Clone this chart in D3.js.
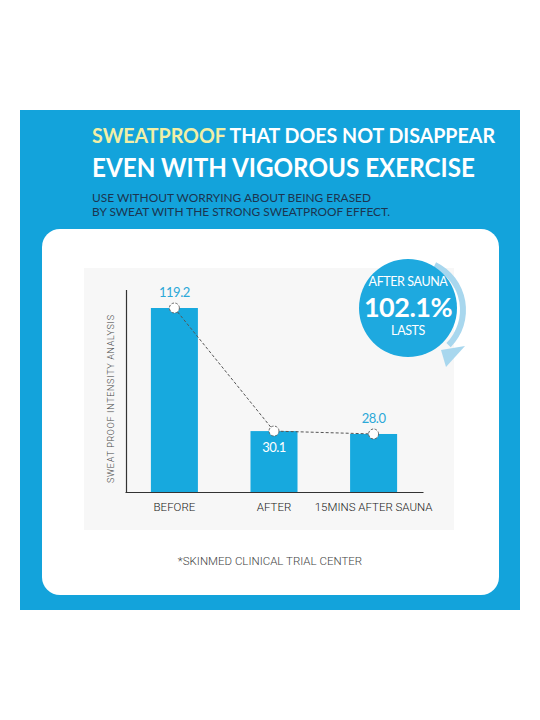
<!DOCTYPE html>
<meta charset="utf-8">
<style>
  body { margin: 0; background: #ffffff; }
  svg text { font-family: "Lato", "Roboto", sans-serif; }
</style>
<script src="https://d3js.org/d3.v7.min.js"></script>
<div id="chart"></div>
<script>

  // chart data
  var categories = ["BEFORE", "AFTER", "15MINS AFTER SAUNA"]
  var values = [119.2, 30.1, 28.0]
  var valueLabels = ["119.2", "30.1", "28.0"]
  var labelInside = [false, true, false]

  var titleLine1 = ["SWEATPROOF", " THAT DOES NOT DISAPPEAR"]
  var titleLine2 = "EVEN WITH VIGOROUS EXERCISE"
  var subtitle = ["USE WITHOUT WORRYING ABOUT BEING ERASED", "BY SWEAT WITH THE STRONG SWEATPROOF EFFECT."]
  var badgeText = ["AFTER SAUNA", "102.1%", "LASTS"]
  var yLabel = "SWEAT PROOF INTENSITY ANALYSIS"
  var footnote = "*SKINMED CLINICAL TRIAL CENTER"

  var blue = "#13a3db"

  var svg = d3.select("#chart")
    .append("svg")
    .attr("width", 540)
    .attr("height", 720)

  // blue panel and white card
  svg.append("rect")
    .attr("x", 20).attr("y", 110)
    .attr("width", 500).attr("height", 500)
    .style("fill", blue)

  svg.append("rect")
    .attr("x", 42).attr("y", 229)
    .attr("width", 457).attr("height", 366)
    .attr("rx", 18)
    .style("fill", "#ffffff")

  // titles
  var t1 = svg.append("text")
    .attr("x", 92).attr("y", 143)
    .attr("textLength", 403)
    .attr("lengthAdjust", "spacingAndGlyphs")
    .style("font-size", "21px")
    .style("font-weight", 700)
  t1.append("tspan").style("fill", "#f2efa6").text(titleLine1[0])
  t1.append("tspan").style("fill", "#ffffff").text(titleLine1[1])

  svg.append("text")
    .attr("x", 92).attr("y", 177)
    .attr("textLength", 383)
    .attr("lengthAdjust", "spacingAndGlyphs")
    .style("font-size", "26px")
    .style("font-weight", 700)
    .style("fill", "#ffffff")
    .text(titleLine2)

  svg.selectAll(".sub")
    .data(subtitle)
    .enter()
    .append("text")
    .attr("class", "sub")
    .attr("x", 92)
    .attr("y", function (d, i) { return 202 + i * 14 })
    .attr("textLength", function (d, i) { return i == 0 ? 279 : 298 })
    .attr("lengthAdjust", "spacingAndGlyphs")
    .style("font-size", "11.5px")
    .style("fill", "#1c3550")
    .text(function (d) { return d })

  // chart background
  svg.append("rect")
    .attr("x", 84).attr("y", 268)
    .attr("width", 370).attr("height", 262)
    .style("fill", "#f7f7f7")

  // scales
  var x = d3.scaleBand()
    .domain(categories)
    .range([125, 423])
    .paddingInner(0.528)
    .paddingOuter(0.26)

  var y = d3.scaleLinear()
    .domain([-14, 125])
    .range([492, 300])

  var g = svg.append("g")

  // bars
  g.selectAll(".bar")
    .data(values)
    .enter()
    .append("rect")
    .attr("class", "bar")
    .attr("x", function (d, i) { return x(categories[i]) })
    .attr("y", function (d) { return y(d) })
    .attr("width", x.bandwidth())
    .attr("height", function (d) { return y.range()[0] - y(d) })
    .style("fill", "#17a9de")

  // axes (plain lines, no ticks)
  var xAxis = g.append("g")
    .attr("transform", "translate(0,492)")
    .call(d3.axisBottom(x).tickSize(0).tickPadding(11))
  xAxis.select(".domain").attr("stroke", "#333").attr("stroke-width", 1.2)
  xAxis.selectAll("text")
    .style("font-family", "Roboto, sans-serif")
    .style("font-weight", 300)
    .style("font-size", "11.5px")
    .style("fill", "#222")

  g.append("line")
    .attr("x1", 126.5).attr("x2", 126.5)
    .attr("y1", 290).attr("y2", 492)
    .style("stroke", "#333")
    .style("stroke-width", 1.2)

  // y label
  svg.append("text")
    .attr("transform", "translate(114,399) rotate(-90)")
    .attr("text-anchor", "middle")
    .attr("textLength", 168)
    .attr("lengthAdjust", "spacing")
    .style("font-family", "Roboto, sans-serif")
    .style("font-weight", 300)
    .style("font-size", "9px")
    .style("fill", "#444")
    .text(yLabel)

  // dashed connector
  var line = d3.line()
    .x(function (d, i) { return x(categories[i]) + x.bandwidth() / 2 })
    .y(function (d) { return y(d) })

  g.append("path")
    .datum(values)
    .attr("d", line)
    .style("fill", "none")
    .style("stroke", "#555")
    .style("stroke-width", 1)
    .style("stroke-dasharray", "3,2")

  g.selectAll(".dot")
    .data(values)
    .enter()
    .append("circle")
    .attr("class", "dot")
    .attr("cx", function (d, i) { return x(categories[i]) + x.bandwidth() / 2 })
    .attr("cy", function (d) { return y(d) })
    .attr("r", 5)
    .style("fill", "#ffffff")
    .style("stroke", "#666")
    .style("stroke-width", 1)
    .style("stroke-dasharray", "2.5,1.5")

  // value labels
  g.selectAll(".val")
    .data(values)
    .enter()
    .append("text")
    .attr("class", "val")
    .attr("x", function (d, i) { return x(categories[i]) + x.bandwidth() / 2 })
    .attr("y", function (d, i) { return labelInside[i] ? y(d) + 21 : y(d) - 11 })
    .attr("text-anchor", "middle")
    .style("font-size", "13px")
    .style("letter-spacing", "-0.5px")
    .style("fill", function (d, i) { return labelInside[i] ? "#ffffff" : "#2ba8d8" })
    .text(function (d, i) { return valueLabels[i] })

  // badge with curved arrow
  var badge = svg.append("g").attr("transform", "translate(408,308)")

  var arc = d3.arc()
    .innerRadius(47)
    .outerRadius(53)
    .startAngle(0.45)
    .endAngle(2.35)

  badge.append("path")
    .attr("d", arc())
    .attr("transform", "translate(5,2)")
    .style("fill", "#a8d7ee")

  badge.append("path")
    .attr("d", "M29,40 L53,36 L34,57 Z")
    .attr("transform", "translate(4,2)")
    .style("fill", "#a8d7ee")

  badge.append("circle")
    .attr("r", 49)
    .style("fill", "#1ea9df")

  badge.selectAll("text")
    .data(badgeText)
    .enter()
    .append("text")
    .attr("text-anchor", "middle")
    .attr("y", function (d, i) { return [-22, 9, 27][i] })
    .style("fill", "#ffffff")
    .style("font-size", function (d, i) { return i == 1 ? "27px" : "12.5px" })
    .style("font-weight", function (d, i) { return i == 1 ? 700 : 400 })
    .style("letter-spacing", function (d, i) { return i == 1 ? "-0.5px" : "-0.4px" })
    .text(function (d) { return d })

  // footnote
  svg.append("text")
    .attr("x", 270).attr("y", 565)
    .attr("text-anchor", "middle")
    .style("font-family", "Roboto, sans-serif")
    .style("font-weight", 300)
    .style("font-size", "11.5px")
    .style("fill", "#444")
    .text(footnote)

</script>
